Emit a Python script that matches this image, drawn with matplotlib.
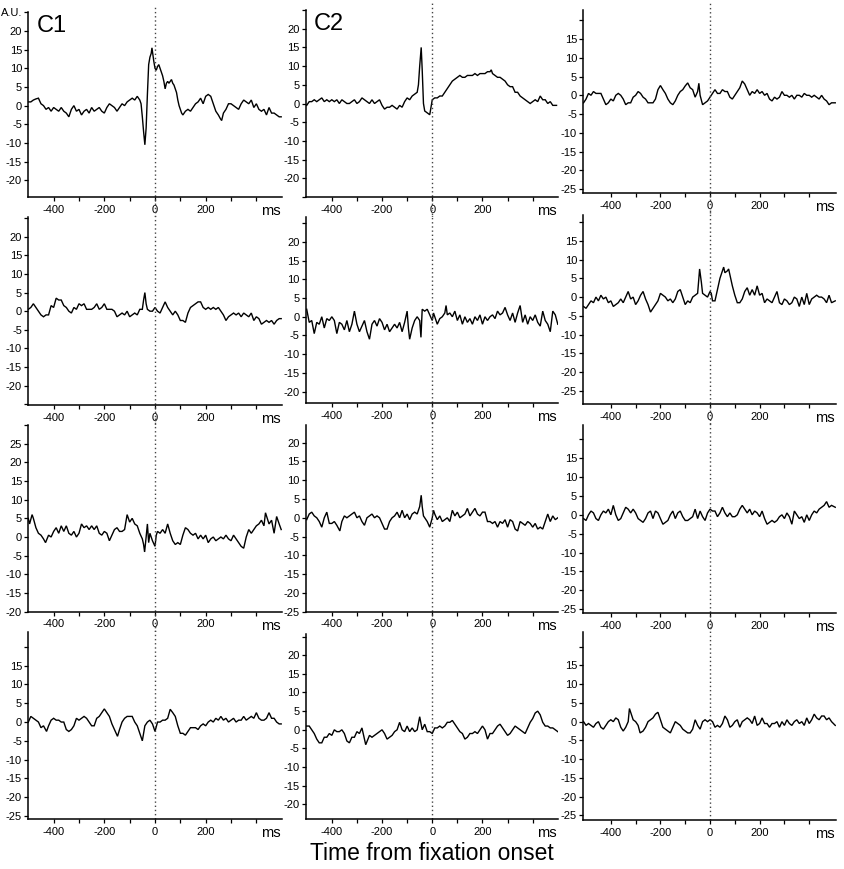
import matplotlib
matplotlib.use("Agg")
import matplotlib.pyplot as plt
from matplotlib.ticker import FixedLocator, FixedFormatter
import matplotlib.transforms as mtransforms

plt.rcParams['font.family'] = ['Liberation Sans', 'DejaVu Sans']

# ---------------- data: (time ms, amplitude A.U.) ----------------
r0c0 = [(-500,1),(-490,1),(-480,1.5),(-470,1.8),(-460,2),(-450,0.5),(-440,0),(-430,-1),(-420,-0.5),(-410,-1.5),
        (-400,-0.5),(-390,-1),(-380,-1.5),(-370,-0.5),(-360,-1.5),(-350,-2),(-340,-3),(-330,-1),(-320,0),(-310,-1.5),
        (-300,-1),(-290,-2.5),(-280,-1.5),(-270,-1),(-260,-2),(-250,-0.5),(-240,-1.5),(-230,-1),(-220,-0.5),(-210,-1.5),
        (-200,-2),(-190,-0.5),(-180,0.5),(-170,0),(-160,-0.5),(-150,-1.5),(-140,-0.5),(-130,0.5),(-120,0),(-110,1),
        (-100,1.5),(-90,2),(-80,1.5),(-70,2.5),(-60,1.5),(-55,0.5),(-50,-3),(-45,-7),(-40,-10.5),(-35,-6),
        (-30,3),(-25,11),(-20,13),(-15,14),(-12,15.5),(-5,12),(0,10),(5,9.5),(10,10.5),(15,11),
        (20,10),(25,9),(30,8),(35,6.5),(40,4.5),(45,6),(50,6.5),(55,6),(60,6.5),(65,7),
        (70,6),(75,5.5),(80,4.5),(85,3.5),(90,1.5),(95,0),(100,-1),(105,-2),(110,-2.5),(120,-1.5),
        (130,-1),(140,-1.5),(150,-0.5),(160,0.5),(170,1),(180,2),(190,0.5),(200,2.5),(210,3),(220,2.5),
        (230,0.5),(240,-1.5),(250,-2.5),(258,-3.5),(263,-4),(270,-2),(280,-1),(290,0.5),(300,0.5),(310,0),
        (320,-0.5),(330,-1),(340,0.5),(350,1.5),(360,1),(370,0.5),(380,1.5),(390,-0.5),(400,0.5),(410,-1),
        (420,-1.5),(430,-1),(440,-2.5),(450,-0.5),(460,-2),(470,-2),(480,-2.5),(490,-3),(498,-3)]

r0c1 = [(-500,-0.5),(-490,0.5),(-480,0.5),(-470,1),(-460,0.5),(-450,1),(-440,1.5),(-430,0.5),(-420,1),(-410,0.5),
        (-400,1),(-390,0.5),(-380,1),(-370,0),(-360,1),(-350,0.5),(-340,0),(-330,0),(-320,0.5),(-310,1),
        (-300,0),(-290,0.5),(-280,1.5),(-270,1),(-260,0.5),(-250,0),(-240,1),(-230,0),(-220,0.5),(-210,1),
        (-200,-0.5),(-190,-1.5),(-180,-1),(-170,-1),(-160,-0.5),(-150,-1),(-140,-1.5),(-130,-0.5),(-120,-1),(-110,0.5),
        (-100,1.5),(-90,1),(-80,2),(-70,2.5),(-60,3),(-55,5),(-50,10),(-44,15),(-40,9),(-35,0),
        (-30,-2),(-20,-2.5),(-10,-3),(-5,-1),(0,1),(10,1.5),(20,1.5),(30,2),(40,2),(50,3),
        (60,4),(70,5),(80,6),(90,6.5),(100,7),(110,7.5),(120,7),(130,7),(140,7.5),(150,7.5),
        (160,7.5),(170,8),(180,7.5),(190,8),(200,8),(210,8),(220,8.5),(230,8.5),(235,9),(240,8),
        (250,7.5),(260,7),(270,7),(280,6.5),(290,6),(300,5),(310,4.5),(320,4.5),(330,3),(340,3),
        (350,2),(360,1.5),(370,1),(380,0.5),(390,0),(400,0.5),(410,1),(420,0.5),(430,2),(440,1),
        (450,1),(460,0),(470,0.5),(480,-0.5),(495,-0.5)]

r0c2 = [(-510,-2),(-500,-1),(-490,0.5),(-480,0),(-470,1),(-460,0.5),(-450,0.5),(-440,0.5),(-430,-1),(-420,-2.5),
        (-410,-2),(-400,-1),(-390,-1.5),(-380,0),(-370,0.5),(-360,0),(-350,-1),(-340,-2.5),(-330,-2),(-320,-2),
        (-310,-0.5),(-300,0),(-290,1),(-280,0.5),(-270,-0.5),(-260,-1),(-250,-2),(-240,-2),(-230,-2),(-220,-1),
        (-210,1.5),(-200,2.6),(-190,1.5),(-180,0.5),(-170,-1),(-160,-2),(-150,-2.5),(-140,-1.5),(-130,0),(-120,1),
        (-110,1.5),(-100,2.5),(-90,3.3),(-80,2),(-70,1.5),(-60,-0.5),(-50,1),(-45,3.2),(-40,0),(-30,-2.5),
        (-20,-2),(-10,-1.5),(0,-0.5),(10,0.5),(20,1.5),(30,0.5),(40,0.5),(50,1.5),(60,1),(70,1),
        (80,-0.5),(90,-1),(100,0),(110,1),(120,2),(130,3.8),(140,3),(150,1.5),(160,0),(170,1),
        (180,0.5),(190,1.5),(200,0.5),(210,1),(220,0),(230,0.5),(240,-1),(250,-1.5),(260,-0.5),(270,-1),
        (280,-0.5),(290,1),(300,0),(310,0),(320,-0.5),(330,0),(340,-1),(350,0),(360,0),(370,-0.5),
        (380,0.5),(390,0),(400,0),(410,-0.5),(420,0),(430,-0.5),(440,-1),(450,0),(460,-1),(470,-1.5),
        (480,-2.5),(490,-2),(505,-2)]

r1c0 = [(-500,0.5),(-490,1),(-480,2),(-470,1),(-460,0),(-450,-1),(-440,-1.5),(-430,-1),(-420,-1),(-410,1.5),
        (-400,1),(-390,3.5),(-380,3),(-370,3),(-360,1.5),(-350,1),(-340,0),(-330,-0.5),(-320,1),(-310,0.5),
        (-300,2),(-290,1.5),(-280,2),(-270,0.5),(-260,0.5),(-250,0.5),(-240,1),(-230,2),(-220,0.5),(-210,1),
        (-200,2),(-190,0.5),(-180,0.5),(-170,0.5),(-160,0),(-150,-1.5),(-140,-1),(-130,-0.5),(-120,-1),(-110,0),
        (-100,-1.5),(-90,-1),(-80,-0.5),(-70,-1),(-60,0.5),(-50,0.5),(-45,3),(-40,5),(-35,2),(-30,0.5),
        (-20,0),(-10,0),(0,1),(10,0),(20,-0.5),(30,1),(40,2.5),(50,1),(60,0),(70,-1),
        (80,0),(90,-1),(100,-2.5),(110,-2.5),(120,-3),(130,-0.5),(140,1),(150,1.5),(160,2),(170,2.5),
        (180,2.5),(190,1),(200,0.5),(210,1),(220,0.5),(230,1),(240,0.5),(250,1),(260,0),(270,-1),
        (280,-2.5),(290,-1.5),(300,-1),(310,-0.5),(320,-1),(330,-0.5),(340,-1.5),(350,-0.5),(360,-1),(370,-1.5),
        (380,-0.5),(390,-2.5),(400,-1.5),(410,-2),(420,-3.5),(430,-3),(440,-2.5),(450,-3),(460,-2.5),(470,-3.5),
        (480,-2.5),(490,-2),(498,-2)]

r1c1 = [(-500,2),(-490,-1.5),(-480,-1),(-470,-4.5),(-460,-1.5),(-450,-2),(-440,0),(-430,-3),(-420,-0.5),(-410,-1),
        (-400,0),(-390,-1),(-380,-4.5),(-370,-1.5),(-360,-2),(-350,-3.5),(-340,-1),(-330,-4),(-320,-2),(-310,1.5),
        (-300,-2),(-290,-4),(-280,-2.5),(-270,-1),(-260,-4),(-250,-6),(-240,-2),(-230,-1),(-220,-2.5),(-210,-0.5),
        (-200,-1.5),(-190,-3.5),(-180,-2),(-170,-4),(-160,-3),(-150,-2),(-140,-3),(-130,-1.5),(-120,-4),(-110,-1.5),
        (-100,1.5),(-95,-3),(-90,-6),(-80,-3),(-70,-1),(-60,0),(-50,-1),(-45,-5.5),(-40,2),(-30,1.5),
        (-20,2),(-10,0.5),(0,-1),(5,1),(10,0),(20,-2),(30,-0.5),(40,0),(50,1),(55,3),
        (60,0.5),(70,1),(80,0),(90,1.5),(100,-1),(110,0.5),(120,-2),(130,0),(140,-1.5),(150,-0.5),
        (160,-2),(170,0),(180,-1),(190,0.5),(200,-2),(210,0),(220,-1),(230,0),(240,0.5),(250,-0.5),
        (260,1.5),(270,0.5),(280,1),(290,2.5),(300,0.5),(310,-1),(320,1),(330,-1.5),(340,1),(350,3),
        (360,-1.5),(370,0.5),(380,-2),(390,0),(400,-1),(410,0.5),(420,-1.5),(430,-2.5),(440,1.5),(450,-1),
        (460,-2),(470,-4),(480,1.5),(490,0.5),(500,-2)]

r1c2 = [(-510,-2.5),(-500,-3),(-490,-2),(-480,-1),(-470,-1.5),(-460,0),(-450,-1),(-440,0.5),(-430,-0.5),(-420,0),
        (-410,-1.5),(-400,-1),(-390,-2.5),(-380,-2),(-370,-1.5),(-360,-0.5),(-350,-1.5),(-340,0),(-330,1.5),(-320,-0.5),
        (-310,0),(-300,-2),(-290,-1),(-280,0.5),(-270,1.5),(-260,-0.5),(-250,-2),(-240,-4),(-230,-3),(-220,-2),
        (-210,-1),(-200,1),(-190,0.5),(-180,0),(-170,-1),(-160,-0.5),(-150,-1.5),(-140,-0.5),(-130,1.5),(-120,2),
        (-110,0),(-100,-2),(-90,-1),(-80,-1.5),(-70,0),(-60,0.5),(-50,1),(-45,5),(-42,7.5),(-35,4),
        (-30,1),(-20,0.5),(-10,0),(0,1.5),(5,1),(10,-1),(20,-1),(30,2),(40,5),(50,7),
        (55,8),(60,6.5),(70,7),(75,7.5),(80,6),(90,3),(100,0.5),(110,-1.5),(120,-1.5),(130,-0.5),
        (140,1.5),(150,2.5),(160,0.5),(170,2),(180,0.5),(190,3),(200,0.5),(210,1),(220,-1.5),(230,-0.5),
        (240,-1),(250,-1.5),(260,0),(270,1.5),(280,-1.5),(290,-2),(300,-0.5),(310,-1),(320,-2),(330,-1.5),
        (340,0),(350,-0.5),(360,-2.5),(370,0),(380,-2),(390,1),(400,-2),(410,-0.5),(420,0),(430,0.5),
        (440,0),(450,0),(460,-0.5),(470,-1.5),(480,0.5),(490,-1.5),(505,-1)]

r2c0 = [(-500,5),(-495,3.5),(-485,6),(-480,5),(-470,2.5),(-460,1),(-450,0.5),(-440,-0.5),(-432,-1.5),(-420,0.5),
        (-410,0),(-400,1.5),(-390,2.5),(-380,1),(-370,3),(-360,1.5),(-350,3),(-340,1),(-330,0.5),(-320,1.5),
        (-310,0),(-300,1),(-290,3.5),(-280,2.5),(-270,3),(-260,2),(-250,3),(-240,2),(-230,3),(-220,1),
        (-210,0.5),(-200,1.5),(-190,1),(-180,-1),(-170,0.5),(-160,2),(-150,2.5),(-140,1.5),(-130,1.5),(-120,2),
        (-110,6),(-100,4),(-90,5),(-80,3.5),(-70,3),(-60,1),(-50,-0.5),(-45,-2),(-41,-4),(-35,0),
        (-30,3.5),(-25,-1.5),(-20,1),(-10,-1),(0,-2.5),(5,0.5),(10,1.5),(20,1),(30,2),(40,1),
        (50,3.5),(60,1),(70,-1),(80,-2),(90,-1.5),(100,-2),(110,0.5),(120,2.5),(130,2),(140,1),
        (150,0.5),(160,1),(170,-0.5),(180,0.5),(190,-0.5),(200,0.5),(210,-1.5),(220,-0.5),(230,0),(240,-1),
        (250,-0.5),(260,0),(270,-0.5),(280,0.5),(290,-0.5),(300,-1),(310,0.5),(320,-0.5),(330,-1.5),(340,-2.5),
        (350,-3),(360,0),(370,2),(380,1),(390,2),(400,3),(410,3.5),(420,4.5),(430,3),(436,6.5),
        (450,3.5),(460,4.5),(470,1),(480,5.5),(490,3.5),(498,2)]

r2c1 = [(-500,-0.5),(-490,1),(-480,1.5),(-470,0.5),(-460,0),(-450,-1),(-440,-2.5),(-430,0),(-420,1.5),(-410,-1.5),
        (-400,-1.5),(-390,-1),(-380,-2),(-368,-3.5),(-360,-1),(-350,0.5),(-340,0),(-330,0.5),(-320,1),(-310,1.5),
        (-300,0),(-290,0.5),(-280,-1),(-270,-2),(-260,0),(-250,0.5),(-240,1),(-230,0),(-220,0.5),(-210,0),
        (-200,-1.5),(-190,-3),(-180,-3),(-170,-1),(-160,0),(-150,0.5),(-140,1.5),(-130,0),(-120,2),(-110,0),
        (-100,1),(-90,-0.5),(-80,1),(-70,1.5),(-60,1),(-50,3),(-44,6),(-40,3),(-35,0.5),(-30,0),
        (-20,-1),(-10,-2.5),(0,0),(5,2),(10,1),(20,-0.5),(30,0.5),(40,-1),(50,-0.5),(60,0),
        (70,-1),(80,2),(90,0.5),(100,1.5),(110,0),(120,0.5),(130,1),(140,2.5),(150,0.5),(160,1.5),
        (170,2.5),(180,1),(190,0.5),(200,1.5),(210,1.5),(220,-1),(230,-1),(240,-1.5),(250,-1),(260,-2.5),
        (270,-1),(280,-1.5),(290,-0.5),(300,-2.5),(310,-0.5),(320,-1),(330,-3),(340,-3.5),(350,-1),(360,-1.5),
        (370,-2),(380,-1),(390,-1.5),(400,-2.5),(410,-1.5),(420,-3),(430,-2.5),(440,-3),(450,-1),(460,1),
        (470,-1),(480,0.5),(490,-0.5),(500,0)]

r2c2 = [(-510,-1),(-500,-1.5),(-490,0),(-480,1),(-470,0.5),(-460,-1),(-450,-1.5),(-440,0),(-430,1),(-420,0.5),
        (-410,1.5),(-400,0),(-390,2.5),(-380,0),(-370,-1.5),(-360,-1),(-350,0.5),(-340,2),(-330,1.5),(-320,0.5),
        (-310,1.5),(-300,0.5),(-290,-1),(-280,-1.5),(-270,-2),(-260,-1),(-250,0.5),(-240,1),(-230,-1),(-220,1),
        (-210,0.5),(-200,-1),(-190,-2.5),(-180,-2),(-170,-1.5),(-160,0),(-150,1),(-140,-1),(-130,0.5),(-120,1),
        (-110,-0.5),(-100,-1.5),(-90,-1.5),(-80,-1),(-70,-0.5),(-60,1.5),(-50,-1),(-40,1),(-30,-0.5),(-20,-1.5),
        (-10,0.5),(0,1.5),(10,1),(20,1),(30,-0.5),(40,0.5),(50,2),(60,0.5),(70,-0.5),(80,0.5),
        (90,-0.5),(100,-0.5),(110,0),(120,1.5),(130,2.5),(140,1.5),(150,0.5),(160,1.5),(170,0),(180,1),
        (190,0.5),(200,-0.5),(210,1),(220,-1),(230,-2.5),(240,-2),(250,-1.5),(260,-2),(270,-1.5),(280,-0.5),
        (290,0),(300,-1),(310,0.5),(320,-0.5),(330,-2.5),(340,1),(350,0),(360,-1),(370,-0.5),(380,-2),
        (390,0),(400,-1.5),(410,0),(420,1),(430,0.5),(440,1.5),(450,2),(460,2.5),(470,3.5),(480,2),
        (490,2.5),(505,2)]

r3c0 = [(-500,0),(-490,1.5),(-480,1),(-470,0.5),(-460,0),(-450,-1.5),(-440,-1),(-428,-2.5),(-420,-1),(-410,0.5),
        (-400,1),(-390,0.5),(-380,0.5),(-370,0),(-360,0),(-350,-2),(-340,-2.5),(-330,-2),(-320,-1),(-310,1),
        (-300,0.5),(-290,1),(-280,1.5),(-270,1),(-260,0),(-250,-1),(-240,-1),(-230,1),(-220,1.5),(-210,2.5),
        (-200,3.5),(-190,2.5),(-180,1.5),(-170,-0.5),(-160,-2),(-148,-3.8),(-140,-2),(-130,0),(-120,1),(-110,1.5),
        (-100,1.5),(-90,1.5),(-80,0),(-70,-1),(-60,-3),(-50,-5),(-40,-1),(-30,0),(-20,0.5),(-10,-0.5),
        (0,-2.5),(10,0),(20,0),(30,0.5),(40,0.5),(50,1),(60,3.4),(70,2.5),(80,1.5),(90,-1),
        (100,-3),(110,-3),(120,-3.5),(130,-2.5),(140,-1.5),(150,-1.5),(160,-1.5),(170,-2),(180,-1),(190,-0.5),
        (200,-1),(210,0),(220,0.5),(230,0),(240,1),(250,0.5),(260,1.5),(270,0.5),(280,1),(290,0),
        (300,0.5),(310,1),(320,0),(330,0.5),(340,0.5),(350,1.5),(360,0.5),(370,1),(380,1.5),(390,1),
        (400,2.5),(410,1),(420,0.5),(430,0.5),(440,1),(450,2.5),(460,1),(470,1),(480,0),(490,-0.5),
        (498,-0.5)]

r3c1 = [(-500,1),(-490,1),(-480,0),(-470,-1),(-460,-2.5),(-450,-3.5),(-440,-3.5),(-430,-2),(-420,-2),(-410,-1),
        (-400,-1.5),(-390,0),(-380,-0.5),(-370,-0.5),(-360,0),(-350,-1),(-340,-3),(-330,-3.5),(-320,-2),(-310,-2),
        (-300,-0.5),(-290,-1),(-280,0.5),(-270,-2.5),(-265,-4),(-250,-1.5),(-240,-2),(-230,-1.5),(-220,-1),(-210,-0.5),
        (-200,0),(-190,-1),(-180,-2.5),(-170,-2),(-160,-1.5),(-150,-0.5),(-140,0),(-130,2),(-120,0),(-110,-0.5),
        (-100,1),(-90,-0.5),(-80,0.5),(-70,-0.5),(-60,0),(-50,3.5),(-40,0),(-30,1.5),(-20,-0.5),(-10,-0.5),
        (0,-1),(10,0.5),(20,0.5),(30,1),(40,0.5),(50,1),(60,2),(70,2),(80,2.5),(90,1.5),
        (100,0.5),(110,-0.5),(120,-1),(130,-2.5),(140,-2),(150,-1),(160,-1),(170,-0.5),(180,-1),(190,0),
        (200,1),(210,0),(220,-2.5),(230,-1),(240,-1),(250,0),(260,1),(270,1.5),(280,0.5),(290,-0.5),
        (300,-1.5),(310,-1),(320,0),(330,1),(340,0.5),(350,0),(360,-0.5),(370,-1),(380,0.5),(390,2),
        (400,3),(410,4.5),(420,5),(430,4),(440,2),(450,1),(460,1),(470,0.5),(480,0.5),(490,0),
        (500,-0.5)]

r3c2 = [(-510,0),(-500,-1),(-490,-0.5),(-480,-1),(-470,-1.5),(-460,-0.5),(-450,0),(-440,-1.5),(-430,-2),(-420,-1),
        (-410,0),(-400,0.5),(-390,0),(-380,1),(-370,0.5),(-360,-1.5),(-350,-2.5),(-340,-1.5),(-330,0),(-325,3.5),
        (-310,0.5),(-300,0),(-290,-1),(-282,-3),(-270,-2.5),(-260,-1.5),(-250,0),(-240,0.5),(-230,1),(-220,2),
        (-210,2.5),(-200,0.5),(-190,-1.5),(-180,-2),(-170,-2.5),(-160,-3),(-150,-1.5),(-140,0),(-130,-0.5),(-120,-1),
        (-110,-2),(-100,-2.5),(-90,-3),(-80,-3),(-70,-2),(-60,0.5),(-50,-1),(-40,-2),(-30,0),(-20,0.5),
        (-10,0),(0,0.5),(10,0),(20,-1.5),(30,-1),(40,-1.5),(50,-0.5),(60,1.5),(70,0.5),(80,-1.5),
        (90,-1),(100,0),(110,0.5),(120,-1.5),(130,0),(140,0.5),(150,1),(160,0.5),(170,-0.5),(180,1.5),
        (190,-1),(200,-0.5),(210,1),(220,-0.5),(230,-0.5),(240,-1.5),(250,-0.5),(260,-0.5),(270,0),(280,-1.5),
        (290,0),(300,-1),(310,0.5),(320,-0.5),(330,-1),(340,0),(350,0.5),(360,-0.5),(370,0),(380,-1),
        (390,1),(400,-0.5),(410,0.5),(420,2),(430,1),(440,0.5),(450,1.5),(460,1.5),(470,0.5),(480,1),
        (490,0),(505,-1)]

panels = [[r0c0, r0c1, r0c2], [r1c0, r1c1, r1c2], [r2c0, r2c1, r2c2], [r3c0, r3c1, r3c2]]

# y-limits and labelled tick range per panel
ylims = [[(-24.5, 25), (-25, 25), (-26, 22.7)],
         [(-25.2, 25.3), (-23.1, 26.7), (-28.6, 21.9)],
         [(-20, 30), (-25, 24.7), (-26.1, 23.8)],
         [(-25.9, 23.9), (-24, 25.6), (-26.2, 23.8)]]
ylabel_range = [[(-20, 20), (-20, 20), (-25, 15)],
                [(-20, 20), (-20, 20), (-25, 15)],
                [(-20, 25), (-25, 20), (-25, 15)],
                [(-25, 15), (-20, 20), (-25, 15)]]
xlims = [(-500, 500), (-504, 502), (-511, 508)]
xtick_vals = [-400, -300, -200, -100, 0, 100, 200, 300, 400]
xtick_labels = ['-400', '', '-200', '', '0', '', '200', '', '']
panel_titles = {(0, 0): 'C1', (0, 1): 'C2'}

# ---------------- layout (pixels) ----------------
W, H = 844, 869
col_lr = [(28.3, 281.7), (305.7, 558.3), (583.3, 836.0)]
row_tb = [[(12.4, 197), (10, 197), (10, 193)],
          [(217, 405), (216.7, 403.3), (215, 404.3)],
          [(425, 611.7), (425, 611.7), (425, 613.3)],
          [(632.3, 819.3), (634.3, 819.3), (632.3, 820)]]

fig = plt.figure(figsize=(W / 100, H / 100), dpi=100)

for r in range(4):
    for c in range(3):
        l, rr = col_lr[c]
        t, b = row_tb[r][c]
        ax = fig.add_axes([l / W, 1 - b / H, (rr - l) / W, (b - t) / H])
        data = panels[r][c]
        ts = [p[0] for p in data]
        vs = [p[1] for p in data]
        ax.plot(ts, vs, color='black', lw=1.0, solid_joinstyle='miter')
        y0, y1 = ylims[r][c]
        ax.set_ylim(y0, y1)
        ax.set_xlim(*xlims[c])
        for s in ('top', 'right'):
            ax.spines[s].set_visible(False)
        for s in ('left', 'bottom'):
            ax.spines[s].set_linewidth(1.1)
        # y ticks every 5
        yt = [v for v in range(-30, 35, 5) if y0 - 0.6 <= v <= y1 + 0.6]
        lo, hi = ylabel_range[r][c]
        labs = []
        for v in yt:
            if lo <= v <= hi:
                labs.append(str(v))
            elif (r, c) == (0, 0) and v == 25:
                labs.append('A.U.')
            else:
                labs.append('')
        ax.yaxis.set_major_locator(FixedLocator(yt))
        ax.yaxis.set_major_formatter(FixedFormatter(labs))
        ax.xaxis.set_major_locator(FixedLocator(xtick_vals))
        ax.xaxis.set_major_formatter(FixedFormatter(xtick_labels))
        ax.tick_params(axis='both', direction='out', length=3, width=0.9,
                       labelsize=8, pad=1.5, colors='black')
        ax.tick_params(axis='x', pad=2.5)
        # "ms" unit label at right end of x axis
        offs = mtransforms.ScaledTranslation(0, -14 / 100, fig.dpi_scale_trans)
        ax.text(0.995, 0, 'ms', transform=ax.transAxes + offs, ha='right', va='center',
                fontsize=10.5, color='black')
        # dotted line at fixation onset
        hpx = b - t
        below = 0 if r == 3 else 20
        ax.axvline(0, ymin=-below / hpx, ymax=1 + 7 / hpx, clip_on=False,
                   color='#444444', ls=(0, (1, 2)), lw=1.0)
        if (r, c) in panel_titles:
            ax.text(0.033, 0.985, panel_titles[(r, c)], transform=ax.transAxes,
                    ha='left', va='top', fontsize=17, color='black')

fig.text(432 / W, 1 - 853 / H, 'Time from fixation onset', ha='center', va='center',
         fontsize=16.5, color='black')

fig.savefig('out.png', dpi=100, facecolor='white')
